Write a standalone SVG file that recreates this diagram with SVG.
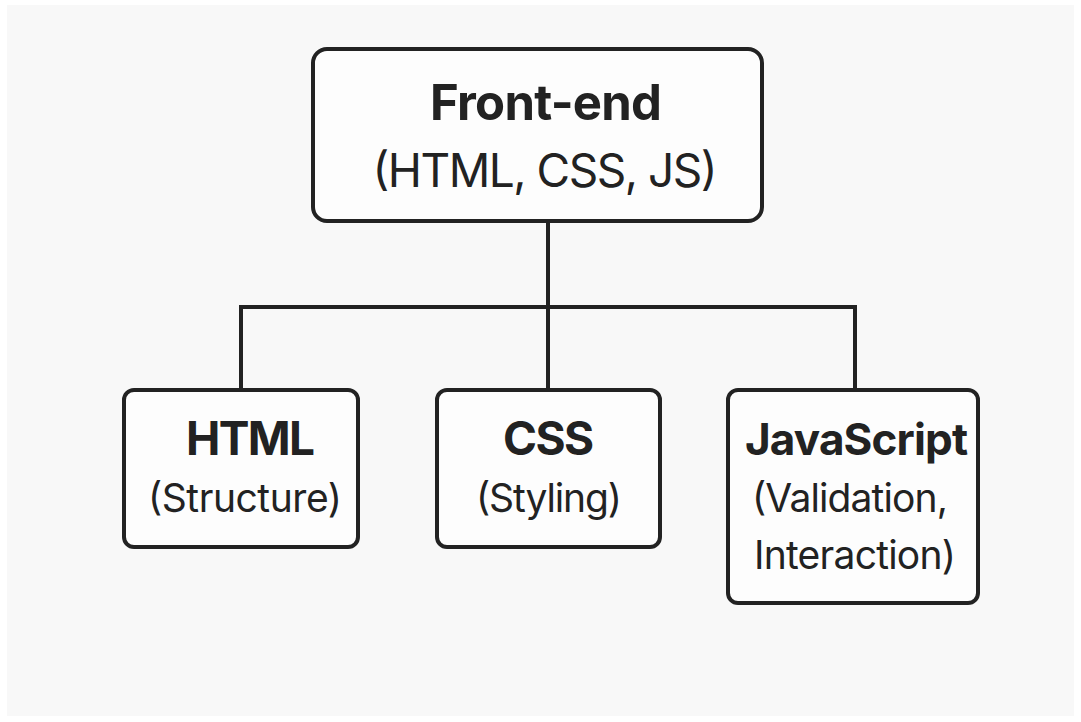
<svg xmlns="http://www.w3.org/2000/svg" width="1081" height="722" viewBox="0 0 1081 722">
<style>
.box{fill:#fdfdfd;stroke:#222;stroke-width:4}
.conn{fill:none;stroke:#222;stroke-width:4}
.t{font-family:Inter,"Liberation Sans",sans-serif;fill:#222;text-anchor:middle}
.b{font-weight:700}
</style>
<rect width="1081" height="722" fill="#ffffff"/>
<rect x="7" y="5" width="1067" height="711" fill="#f8f8f8"/>
<g id="connectors">
<path class="conn" d="M548 221V307M241 390V307H855V390M548 307V390"/>
</g>
<g id="frontend">
<rect class="box" x="313" y="49" width="449" height="172" rx="14"/>
<text class="t b" x="546" y="120" font-size="49" textLength="232">Front-end</text>
<text class="t" x="545" y="187" font-size="46" textLength="345">(HTML, CSS, JS)</text>
</g>
<g id="html">
<rect class="box" x="124" y="390" width="234" height="157" rx="10"/>
<text class="t b" x="250.5" y="455" font-size="46" textLength="129">HTML</text>
<text class="t" x="245" y="512" font-size="39" textLength="194">(Structure)</text>
</g>
<g id="css">
<rect class="box" x="437" y="390" width="223" height="157" rx="10"/>
<text class="t b" x="548.5" y="455" font-size="46" textLength="91">CSS</text>
<text class="t" x="549" y="512" font-size="39" textLength="146">(Styling)</text>
</g>
<g id="javascript">
<rect class="box" x="728" y="390" width="250" height="213" rx="10"/>
<text class="t b" x="856.5" y="455" font-size="44" textLength="223">JavaScript</text>
<text class="t" x="850" y="512" font-size="39" textLength="196">(Validation,</text>
<text class="t" x="855" y="569" font-size="39" textLength="202">Interaction)</text>
</g>
</svg>
